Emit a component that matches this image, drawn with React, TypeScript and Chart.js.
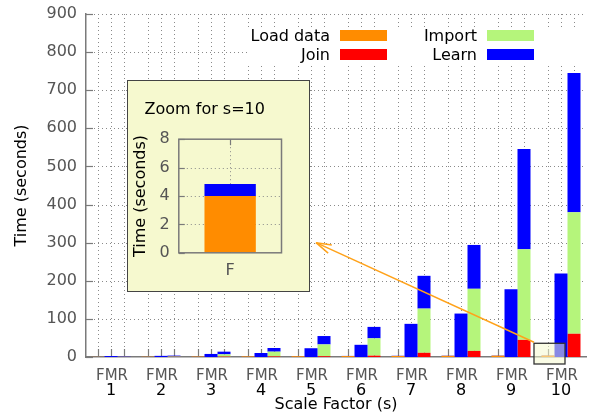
import React, { useEffect, useRef } from 'react';
import { Chart, registerables } from 'chart.js';

Chart.register(...registerables);

// ---------- data ----------
const scaleFactors = ['1', '2', '3', '4', '5', '6', '7', '8', '9', '10'];
const variantLetters = ['F', 'M', 'R'];
const seriesNames = ['Load data', 'Join', 'Import', 'Learn'];

// F variant: Load data + Learn
const loadDataF = [0.4, 0.8, 1.2, 1.6, 2.0, 2.4, 2.8, 3.2, 3.6, 4.0];
const learnF = [0.1, 0.15, 0.25, 0.3, 0.4, 0.45, 0.55, 0.65, 0.75, 0.85];
// M variant: Learn
const learnM = [2.5, 3, 8, 10.5, 23, 32, 87, 114, 178, 219];
// R variant: Join + Import + Learn
const joinR = [0.3, 0.5, 1, 1.5, 2, 3.5, 11, 16, 45, 61];
const importR = [0.7, 1.2, 6, 12.5, 31, 45.5, 116, 163, 238, 319];
const learnR = [1.5, 2, 7, 9.6, 22, 30, 86, 115, 263, 365];

const mainYMax = 900;
const mainYStep = 100;
const zoomIndex = 9; // s = 10
const insetYMax = 8;
const insetYStep = 2;
const insetTitle = 'Zoom for s=10';
const yTitle = 'Time (seconds)';
const xTitle = 'Scale Factor (s)';

// ---------- styles ----------
const FONT = 'DejaVu Sans';
const C_LOAD = '#ff8c00';
const C_JOIN = '#ff0000';
const C_IMPORT = '#b5f57b';
const C_LEARN = '#0000ff';
const seriesColors = [C_LOAD, C_JOIN, C_IMPORT, C_LEARN];
const GRID = '#8a8a8a';
const AXIS = '#7a7a7a';
const TICK_TXT = '#555555';
const INSET_BG = '#f6f9cf';

function seg(ctx: CanvasRenderingContext2D, x1: number, y1: number, x2: number, y2: number) {
  ctx.beginPath();
  ctx.moveTo(x1, y1);
  ctx.lineTo(x2, y2);
  ctx.stroke();
}
const snap = (v: number) => Math.round(v) + 0.5;

const mainDecor = {
  id: 'mainDecor',
  beforeDatasetsDraw(chart: any) {
    const { ctx, chartArea, scales } = chart;
    const { left, right, top, bottom } = chartArea;
    const y = scales.y;
    ctx.save();
    ctx.lineWidth = 1;
    ctx.strokeStyle = GRID;
    ctx.setLineDash([1, 3]);
    y.ticks.forEach((t: any) => {
      if (t.value === 0) return;
      const py = snap(y.getPixelForValue(t.value));
      seg(ctx, left, py, right, py);
    });
    const barXs: number[] = [];
    [0, 2, 3].forEach((di) => chart.getDatasetMeta(di).data.forEach((b: any) => barXs.push(b.x)));
    barXs.forEach((bx) => seg(ctx, snap(bx), top, snap(bx), bottom));
    ctx.setLineDash([]);
    ctx.strokeStyle = AXIS;
    ctx.lineWidth = 1.2;
    y.ticks.forEach((t: any) => {
      const py = snap(y.getPixelForValue(t.value));
      seg(ctx, left, py, left + 7, py);
    });
    barXs.forEach((bx) => seg(ctx, snap(bx), bottom, snap(bx), bottom - 8));
    ctx.restore();
  },
  afterDatasetsDraw(chart: any) {
    const { ctx, chartArea, scales } = chart;
    const { right, bottom } = chartArea;
    const y = scales.y;
    ctx.save();
    // zoom box around the F bar of s=10
    const fb = chart.getDatasetMeta(0).data[zoomIndex];
    const bx1 = fb.x - 14;
    const bx2 = fb.x + 17;
    const by1 = y.getPixelForValue(36);
    const by2 = bottom + 7;
    ctx.globalAlpha = 0.55;
    ctx.fillStyle = INSET_BG;
    ctx.fillRect(bx1, by1, bx2 - bx1, by2 - by1);
    ctx.globalAlpha = 1;
    ctx.strokeStyle = '#333';
    ctx.lineWidth = 1.3;
    ctx.strokeRect(bx1, by1, bx2 - bx1, by2 - by1);

    // arrow from zoom box to inset
    const tipX = 316;
    const tipY = y.getPixelForValue(300);
    const sx = bx1;
    const sy = by1 - 1;
    ctx.strokeStyle = '#ffa21a';
    ctx.lineWidth = 1.5;
    seg(ctx, sx, sy, tipX, tipY);
    const ang = Math.atan2(sy - tipY, sx - tipX);
    const L = 16;
    [-0.28, 0.28].forEach((da) => {
      seg(ctx, tipX, tipY, tipX + L * Math.cos(ang + da), tipY + L * Math.sin(ang + da));
    });

    // legend (white box, text right-aligned before swatch)
    ctx.fillStyle = '#ffffff';
    ctx.fillRect(248, 28, right - 248, 36);
    ctx.font = `16px "${FONT}"`;
    ctx.textAlign = 'right';
    ctx.textBaseline = 'middle';
    const colText = [330, 477];
    const colSw = [340, 487];
    const rowY = [35.5, 54.5];
    seriesNames.forEach((name, i) => {
      const col = Math.floor(i / 2);
      const row = i % 2;
      ctx.fillStyle = '#000';
      ctx.fillText(name, colText[col], rowY[row] + 1);
      ctx.fillStyle = seriesColors[i];
      ctx.fillRect(colSw[col], rowY[row] - 5.5, 47, 11);
    });
    ctx.restore();
  },
  afterDraw(chart: any) {
    const { ctx, chartArea, scales } = chart;
    const x = scales.x;
    ctx.save();
    ctx.textAlign = 'center';
    ctx.textBaseline = 'middle';
    scaleFactors.forEach((lab, i) => {
      const px = x.getPixelForTick(i);
      ctx.font = `15px "${FONT}"`;
      ctx.fillStyle = TICK_TXT;
      ctx.fillText(variantLetters.join(''), px + 1, 376);
      ctx.font = `16px "${FONT}"`;
      ctx.fillStyle = '#000';
      ctx.fillText(lab, px, 391);
    });
    ctx.font = `16px "${FONT}"`;
    ctx.fillStyle = '#000';
    ctx.fillText(xTitle, (chartArea.left + chartArea.right) / 2, 405);
    ctx.translate(21.7, (chartArea.top + chartArea.bottom) / 2);
    ctx.rotate(-Math.PI / 2);
    ctx.font = `16px "${FONT}"`;
    ctx.fillText(yTitle, 0, 0);
    ctx.restore();
  },
};

const insetDecor = {
  id: 'insetDecor',
  beforeDatasetsDraw(chart: any) {
    const { ctx, chartArea, scales } = chart;
    const { left, right, top, bottom } = chartArea;
    const y = scales.y;
    ctx.save();
    ctx.lineWidth = 1;
    ctx.strokeStyle = GRID;
    ctx.setLineDash([1, 3]);
    y.ticks.forEach((t: any) => {
      if (t.value === 0 || t.value === insetYMax) return;
      const py = snap(y.getPixelForValue(t.value));
      seg(ctx, left, py, right, py);
    });
    const bx = snap(chart.getDatasetMeta(0).data[0].x);
    seg(ctx, bx, top, bx, bottom);
    ctx.setLineDash([]);
    ctx.strokeStyle = AXIS;
    ctx.lineWidth = 1.2;
    y.ticks.forEach((t: any) => {
      const py = snap(y.getPixelForValue(t.value));
      seg(ctx, left, py, left + 6, py);
    });
    seg(ctx, bx, bottom, bx, bottom - 6);
    seg(ctx, bx, top, bx, top + 6);
    ctx.restore();
  },
  afterDatasetsDraw(chart: any) {
    const { ctx, chartArea } = chart;
    const { left, right, top, bottom } = chartArea;
    ctx.save();
    ctx.strokeStyle = AXIS;
    ctx.lineWidth = 1.5;
    ctx.strokeRect(left, top, right - left, bottom - top);
    ctx.restore();
  },
};

export default function App() {
  const mainRef = useRef<HTMLCanvasElement>(null);
  const insetRef = useRef<HTMLCanvasElement>(null);

  useEffect(() => {
    document.body.style.margin = '0';
    const main = new Chart(mainRef.current!, {
      type: 'bar',
      data: {
        labels: scaleFactors,
        datasets: [
          { label: 'Load data', data: loadDataF, backgroundColor: C_LOAD, stack: 'F' },
          { label: 'Learn', data: learnF, backgroundColor: C_LEARN, stack: 'F' },
          { label: 'Learn', data: learnM, backgroundColor: C_LEARN, stack: 'M' },
          { label: 'Join', data: joinR, backgroundColor: C_JOIN, stack: 'R' },
          { label: 'Import', data: importR, backgroundColor: C_IMPORT, stack: 'R' },
          { label: 'Learn', data: learnR, backgroundColor: C_LEARN, stack: 'R' },
        ],
      },
      options: {
        animation: false,
        responsive: false,
        maintainAspectRatio: false,
        devicePixelRatio: 1,
        layout: { padding: { left: 0, right: 5, top: 14, bottom: 0 } },
        datasets: { bar: { barPercentage: 1, categoryPercentage: 0.78 } },
        plugins: { legend: { display: false }, tooltip: { enabled: false }, title: { display: false } },
        scales: {
          x: {
            stacked: true,
            grid: { display: false, drawTicks: false },
            border: { display: true, color: AXIS, width: 1.5 },
            ticks: { display: false },
            afterFit(s: any) { s.height = 57; s.paddingLeft = 0; s.paddingRight = 0; },
          },
          y: {
            stacked: true,
            min: 0,
            max: mainYMax,
            grid: { display: false, drawTicks: false },
            border: { display: true, color: AXIS, width: 1.5 },
            ticks: { stepSize: mainYStep, color: TICK_TXT, font: { family: FONT, size: 16 }, padding: 9 },
            afterFit(s: any) { s.width = 86; s.paddingTop = 0; s.paddingBottom = 0; },
          },
        },
      } as any,
      plugins: [mainDecor],
    });

    const inset = new Chart(insetRef.current!, {
      type: 'bar',
      data: {
        labels: [variantLetters[0]],
        datasets: [
          { label: 'Load data', data: [loadDataF[zoomIndex]], backgroundColor: C_LOAD, stack: 'F' },
          { label: 'Learn', data: [learnF[zoomIndex]], backgroundColor: C_LEARN, stack: 'F' },
        ],
      },
      options: {
        animation: false,
        responsive: false,
        maintainAspectRatio: false,
        devicePixelRatio: 1,
        layout: { padding: { left: 0, right: 26.5, top: 0, bottom: 0 } },
        datasets: { bar: { barPercentage: 1, categoryPercentage: 0.5 } },
        plugins: {
          legend: { display: false },
          tooltip: { enabled: false },
          title: {
            display: true,
            text: insetTitle,
            color: '#000',
            font: { family: FONT, size: 16, weight: 'normal' },
            padding: { top: 19, bottom: 20 },
          },
        },
        scales: {
          x: {
            stacked: true,
            grid: { display: false, drawTicks: false },
            border: { display: false },
            ticks: { color: TICK_TXT, font: { family: FONT, size: 16 }, padding: 8 },
            afterFit(s: any) { s.height = 37.2; },
          },
          y: {
            stacked: true,
            min: 0,
            max: insetYMax,
            grid: { display: false, drawTicks: false },
            border: { display: false },
            ticks: { stepSize: insetYStep, color: TICK_TXT, font: { family: FONT, size: 16 }, padding: 9 },
            title: { display: true, text: yTitle, color: '#000', font: { family: FONT, size: 16 }, padding: { top: 3.6, bottom: 0 } },
            afterFit(s: any) { s.width = 50.8; s.paddingTop = 0; s.paddingBottom = 0; },
          },
        },
      } as any,
      plugins: [insetDecor],
    });

    return () => {
      main.destroy();
      inset.destroy();
    };
  }, []);

  return (
    <div style={{ position: 'fixed', left: 0, top: 0, width: 591, height: 414, background: '#fff' }}>
      <canvas ref={mainRef} width={591} height={414} style={{ position: 'absolute', left: 0, top: 0, display: 'block' }} />
      <div
        style={{
          position: 'absolute',
          left: 127,
          top: 80,
          width: 183,
          height: 212,
          boxSizing: 'border-box',
          border: '1.5px solid #444',
          background: INSET_BG,
        }}
      >
        <canvas ref={insetRef} width={180} height={209} style={{ display: 'block' }} />
      </div>
    </div>
  );
}
